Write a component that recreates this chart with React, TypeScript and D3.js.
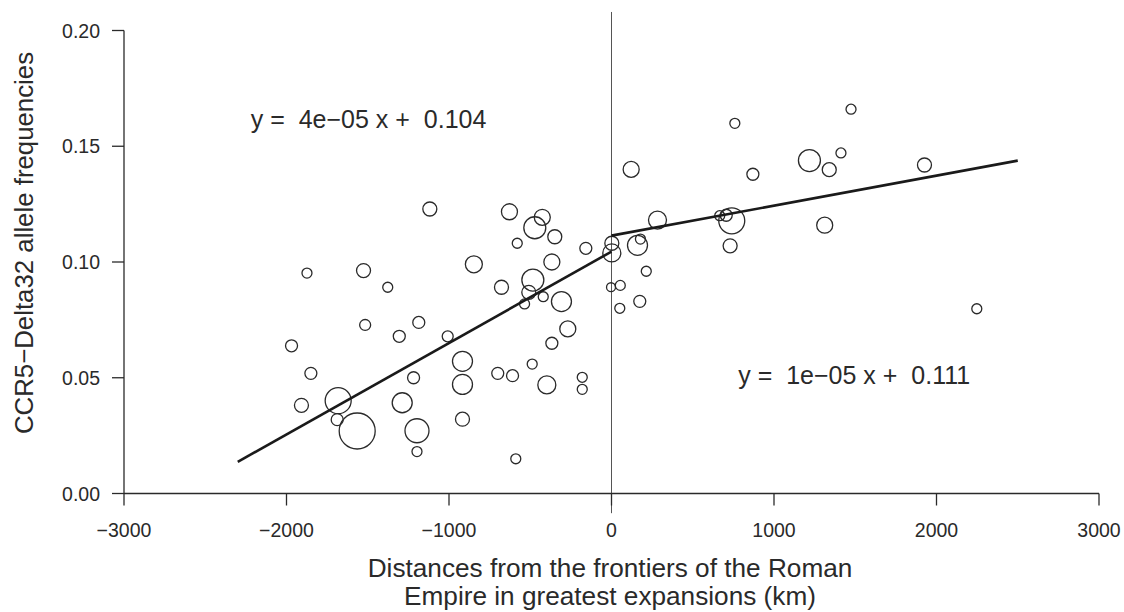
import React from "react";
import * as d3 from "d3";

// Distance from Roman frontier (km), CCR5-Delta32 allele frequency, sample size (bubble area)
const distanceKm = [
  -1874, -1526, -1377, -847, -1516, -1186, -1306, -1008, -1969, -1850,
  -917, -917, -1218, -1682, -1908, -1288, -1688, -1565, -1197, -917,
  -1197, -1118, -628, -426, -472, -349, -580, -158, 2, 2,
  -367, -677, -484, -509, -420, -535, -308, -269, -367, -488,
  -700, -609, -398, -180, -180, -589, -3, 54, 51, 759,
  121, 870, 1218, 1340, 1412, 1474, 283, 666, 706, 740,
  730, 1312, 160, 178, 214, 174, 1926, 2248,
];
const frequency = [
  0.0952, 0.0963, 0.0891, 0.099, 0.0728, 0.0739, 0.0679, 0.0679, 0.0638, 0.0519,
  0.0571, 0.0471, 0.05, 0.0401, 0.0381, 0.0392, 0.0319, 0.027, 0.0271, 0.0321,
  0.0181, 0.1229, 0.1217, 0.1193, 0.1148, 0.1109, 0.1081, 0.1059, 0.1081, 0.1039,
  0.1, 0.0891, 0.0922, 0.0869, 0.085, 0.0819, 0.0829, 0.0711, 0.0649, 0.0559,
  0.0519, 0.0509, 0.0469, 0.0502, 0.045, 0.015, 0.0891, 0.0899, 0.08, 0.1599,
  0.14, 0.1379, 0.1438, 0.1399, 0.1471, 0.166, 0.1181, 0.12, 0.1202, 0.1178,
  0.107, 0.1159, 0.1072, 0.1099, 0.096, 0.083, 0.1419, 0.0798,
];
const sampleSize = [
  77, 151, 77, 223, 93, 111, 111, 93, 111, 111,
  309, 309, 111, 522, 151, 309, 111, 1000, 444, 151,
  77, 151, 198, 198, 373, 151, 77, 111, 151, 250,
  198, 151, 373, 151, 77, 77, 309, 198, 111, 77,
  111, 111, 250, 77, 77, 77, 62, 77, 77, 77,
  198, 111, 373, 151, 77, 77, 250, 77, 111, 522,
  151, 198, 309, 77, 77, 111, 151, 77,
];

// Piecewise regression fits (left and right of the frontier)
const fitXStart = [-2300, 0];
const fitXEnd = [0, 2500];
const fitSlope = [3.948e-5, 1.296e-5];
const fitIntercept = [0.1045, 0.1114];
const fitLabels = ["y =  4e\u221205 x +  0.104", "y =  1e\u221205 x +  0.111"];
const fitLabelAt = [
  [-2220, 0.1578],
  [780, 0.0472],
];

const xTicks = [-3000, -2000, -1000, 0, 1000, 2000, 3000];
const yTicks = [0, 0.05, 0.1, 0.15, 0.2];

const xTitle = [
  "Distances from the frontiers of the Roman",
  "Empire in greatest expansions (km)",
];
const yTitle = "CCR5\u2212Delta32 allele frequencies";

const W = 1124;
const H = 612;
const FONT = "'Liberation Sans', Arial, Helvetica, sans-serif";
const INK = "#2a2a2a";

export default function App() {
  const x = d3.scaleLinear().domain([-3000, 3000]).range([124, 1099]);
  const y = d3.scaleLinear().domain([0, 0.2]).range([493.5, 30.5]);
  const r = d3.scaleSqrt().domain([0, 1000]).range([0, 18]);
  const fmtX = (v: number) => (v < 0 ? "\u2212" + Math.abs(v) : String(v));
  const fmtY = d3.format(".2f");
  const line = d3
    .line<[number, number]>()
    .x((d) => x(d[0]))
    .y((d) => y(d[1]));

  return (
    <svg
      width={W}
      height={H}
      style={{ position: "absolute", left: 0, top: 0, background: "#fff" }}
      fontFamily={FONT}
    >
      <rect width={W} height={H} fill="#fff" />
      {/* vertical frontier line */}
      <line
        x1={x(0)}
        x2={x(0)}
        y1={y(0.208)}
        y2={y(-0.0085)}
        stroke="#555"
        strokeWidth={1}
      />
      {/* axes */}
      <g stroke={INK} strokeWidth={1.3} fill="none">
        <line x1={x(-3000)} x2={x(3000)} y1={y(0)} y2={y(0)} />
        <line x1={x(-3000)} x2={x(-3000)} y1={y(0)} y2={y(0.2)} />
        {xTicks.map((t) => (
          <line key={"xt" + t} x1={x(t)} x2={x(t)} y1={y(0)} y2={y(0) + 12} />
        ))}
        {yTicks.map((t) => (
          <line key={"yt" + t} x1={x(-3000) - 12} x2={x(-3000)} y1={y(t)} y2={y(t)} />
        ))}
      </g>
      <g fill={INK} fontSize={19.5}>
        {xTicks.map((t) => (
          <text key={"xl" + t} x={x(t)} y={537} textAnchor="middle">
            {fmtX(t)}
          </text>
        ))}
        {yTicks.map((t) => (
          <text key={"yl" + t} x={100} y={y(t) + 7} textAnchor="end">
            {fmtY(t)}
          </text>
        ))}
      </g>
      {/* points */}
      <g fill="none" stroke={INK} strokeWidth={1.3}>
        {distanceKm.map((d, i) => (
          <circle key={"p" + i} cx={x(d)} cy={y(frequency[i])} r={r(sampleSize[i])} />
        ))}
      </g>
      {/* fits */}
      <g fill="none" stroke="#1a1a1a" strokeWidth={2.6}>
        {fitXStart.map((x0, i) => {
          const x1 = fitXEnd[i];
          const pts: [number, number][] = [
            [x0, fitIntercept[i] + fitSlope[i] * x0],
            [x1, fitIntercept[i] + fitSlope[i] * x1],
          ];
          return <path key={"f" + i} d={line(pts) || ""} />;
        })}
      </g>
      <g fill={INK} fontSize={25}>
        {fitLabels.map((s, i) => (
          <text
            key={"fl" + i}
            x={x(fitLabelAt[i][0])}
            y={y(fitLabelAt[i][1])}
            style={{ whiteSpace: "pre" }}
            xmlSpace="preserve"
          >
            {s}
          </text>
        ))}
      </g>
      {/* axis titles */}
      <g fill={INK} fontSize={26.2}>
        <text x={610} y={577} textAnchor="middle">
          {xTitle[0]}
        </text>
        <text x={610} y={605} textAnchor="middle">
          {xTitle[1]}
        </text>
        <text transform="translate(33,243) rotate(-90)" textAnchor="middle" fontSize={25.8}>
          {yTitle}
        </text>
      </g>
    </svg>
  );
}
